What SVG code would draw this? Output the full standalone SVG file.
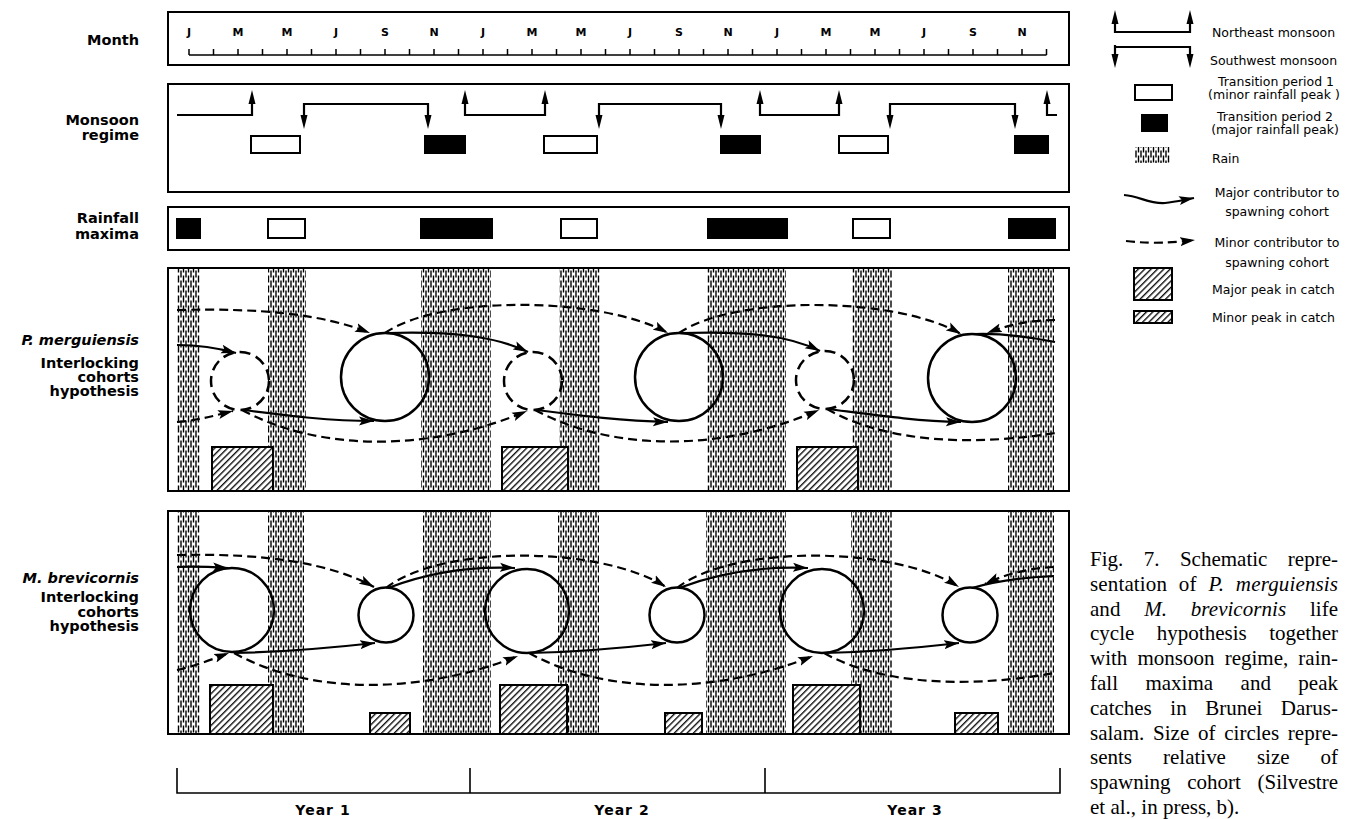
<svg xmlns="http://www.w3.org/2000/svg" width="1346" height="819" viewBox="0 0 1346 819">
<defs>
<pattern id="rainp" width="5" height="10" patternUnits="userSpaceOnUse">
<rect width="5" height="10" fill="#fff"/>
<path d="M1,0.5V7.5M3.5,5.5V12.5M3.5,-4.5V2.5" stroke="#000" stroke-width="1.4"/>
</pattern>
<pattern id="hatchp" width="4.5" height="4.5" patternUnits="userSpaceOnUse" patternTransform="rotate(45)">
<rect width="4.5" height="4.5" fill="#fff"/>
<path d="M0.7,0V4.5" stroke="#000" stroke-width="1.3"/>
</pattern>
<marker id="ah" markerUnits="userSpaceOnUse" markerWidth="16" markerHeight="10" refX="15" refY="5" orient="auto">
<path d="M0,0.5L15,5L0,9.5L3,5Z" fill="#000"/>
</marker>
</defs>
<style>
.box{fill:none;stroke:#000;stroke-width:2}
.lbl{font-family:"DejaVu Sans",sans-serif;font-weight:bold;font-size:14.5px;text-anchor:end;fill:#000}
.it{font-style:italic}
.mon{font-family:"DejaVu Sans",sans-serif;font-weight:bold;font-size:11px;text-anchor:middle}
.leg{font-family:"DejaVu Sans",sans-serif;font-size:12.5px}
.legc{text-anchor:middle}
.cap{font-family:"Liberation Serif",serif;font-size:21px}
.yr{font-family:"DejaVu Sans",sans-serif;font-weight:bold;font-size:14px;text-anchor:middle;letter-spacing:1px}
.ln{fill:none;stroke:#000;stroke-width:2.2}
.sol{fill:none;stroke:#000;stroke-width:2.2;marker-end:url(#ah)}
.dsh{fill:none;stroke:#000;stroke-width:2.2;stroke-dasharray:9 5;marker-end:url(#ah)}
.sol0{fill:none;stroke:#000;stroke-width:2.2}
.dsh0{fill:none;stroke:#000;stroke-width:2.2;stroke-dasharray:9 5}
.rain{fill:url(#rainp)}
.hatch{fill:url(#hatchp);stroke:#000;stroke-width:2}
.circ{fill:none;stroke:#000;stroke-width:2.5}
.circd{fill:none;stroke:#000;stroke-width:2.5;stroke-dasharray:11 6}
.blk{fill:#000;stroke:#000;stroke-width:2}
.opn{fill:#fff;stroke:#000;stroke-width:2}
.hd{fill:#000}
</style>
<rect width="1346" height="819" fill="#fff"/>

<g id="row-labels">
<text class="lbl" x="139" y="45">Month</text>
<text class="lbl" x="139" y="125">Monsoon</text>
<text class="lbl" x="139" y="140">regime</text>
<text class="lbl" x="139" y="223">Rainfall</text>
<text class="lbl" x="139" y="239">maxima</text>
<text class="lbl it" x="139" y="345">P. merguiensis</text>
<text class="lbl" x="139" y="368">Interlocking</text>
<text class="lbl" x="139" y="382">cohorts</text>
<text class="lbl" x="139" y="396">hypothesis</text>
<text class="lbl it" x="139" y="583">M. brevicornis</text>
<text class="lbl" x="139" y="602">Interlocking</text>
<text class="lbl" x="139" y="617">cohorts</text>
<text class="lbl" x="139" y="631">hypothesis</text>
</g>

<g id="month-row">
<rect class="box" x="168" y="12" width="901" height="53"/>
<path d="M189,55H1046.5M189,55V49M213.5,55V49M238,55V49M262.5,55V49M287,55V49M311.5,55V49M336,55V49M360.5,55V49M385,55V49M409.5,55V49M434,55V49M458.5,55V49M483,55V49M507.5,55V49M532,55V49M556.5,55V49M581,55V49M605.5,55V49M630,55V49M654.5,55V49M679,55V49M703.5,55V49M728,55V49M752.5,55V49M777,55V49M801.5,55V49M826,55V49M850.5,55V49M875,55V49M899.5,55V49M924,55V49M948.5,55V49M973,55V49M997.5,55V49M1022,55V49M1046.5,55V49" fill="none" stroke="#000" stroke-width="1.5"/>
<text class="mon" x="189" y="36">J</text><text class="mon" x="238" y="36">M</text><text class="mon" x="287" y="36">M</text><text class="mon" x="336" y="36">J</text><text class="mon" x="385" y="36">S</text><text class="mon" x="434" y="36">N</text>
<text class="mon" x="483" y="36">J</text><text class="mon" x="532" y="36">M</text><text class="mon" x="581" y="36">M</text><text class="mon" x="630" y="36">J</text><text class="mon" x="679" y="36">S</text><text class="mon" x="728" y="36">N</text>
<text class="mon" x="777" y="36">J</text><text class="mon" x="826" y="36">M</text><text class="mon" x="875" y="36">M</text><text class="mon" x="924" y="36">J</text><text class="mon" x="973" y="36">S</text><text class="mon" x="1022" y="36">N</text>
</g>

<g id="monsoon-row">
<rect class="box" x="168" y="84" width="901" height="108"/>
<path class="ln" d="M177,115H252V101M304,118V104H428V118M465,101V115H545V101M599,118V104H721V118M760,101V115H839V101M890,118V104H1015V118M1047,101V115H1057"/>
<path class="hd" d="M248.5,104L252,90L255.5,104ZM461.5,104L465,90L468.5,104ZM541.5,104L545,90L548.5,104ZM756.5,104L760,90L763.5,104ZM835.5,104L839,90L842.5,104ZM1043.5,104L1047,90L1050.5,104Z"/>
<path class="hd" d="M300.5,115L304,129L307.5,115ZM424.5,115L428,129L431.5,115ZM595.5,115L599,129L602.5,115ZM717.5,115L721,129L724.5,115ZM886.5,115L890,129L893.5,115ZM1011.5,115L1015,129L1018.5,115Z"/>
<rect class="opn" x="251" y="136" width="49" height="17"/>
<rect class="opn" x="544" y="136" width="53" height="17"/>
<rect class="opn" x="839" y="136" width="49" height="17"/>
<rect class="blk" x="425" y="136" width="40" height="17"/>
<rect class="blk" x="721" y="136" width="39" height="17"/>
<rect class="blk" x="1015" y="136" width="33" height="17"/>
</g>

<g id="rainfall-row">
<rect class="box" x="168" y="207" width="901" height="43"/>
<rect class="blk" x="177" y="219" width="23" height="19"/>
<rect class="opn" x="268" y="219" width="37" height="19"/>
<rect class="blk" x="421" y="219" width="71" height="19"/>
<rect class="opn" x="561" y="219" width="36" height="19"/>
<rect class="blk" x="708" y="219" width="79" height="19"/>
<rect class="opn" x="853" y="219" width="37" height="19"/>
<rect class="blk" x="1009" y="219" width="46" height="19"/>
</g>

<g id="p-panel">
<rect class="rain" x="177" y="269" width="23" height="221"/>
<rect class="rain" x="268" y="269" width="38" height="221"/>
<rect class="rain" x="421" y="269" width="70" height="221"/>
<rect class="rain" x="559" y="269" width="41" height="221"/>
<rect class="rain" x="707" y="269" width="79" height="221"/>
<rect class="rain" x="852" y="269" width="40" height="221"/>
<rect class="rain" x="1008" y="269" width="46" height="221"/>
<rect class="hatch" x="212" y="447" width="61" height="44"/>
<rect class="hatch" x="502" y="447" width="66" height="44"/>
<rect class="hatch" x="797" y="447" width="61" height="44"/>
<rect class="box" x="168" y="268" width="901" height="223"/>
</g>
<g id="p-d1"><circle class="circd" cx="240" cy="381" r="29"/></g>
<g id="p-g1"><circle class="circ" cx="385" cy="377" r="44"/></g>
<g id="p-d2"><circle class="circd" cx="533" cy="381" r="29"/></g>
<g id="p-g2"><circle class="circ" cx="679" cy="377" r="44"/></g>
<g id="p-d3"><circle class="circd" cx="825" cy="380" r="29"/></g>
<g id="p-g3"><circle class="circ" cx="972" cy="378" r="44"/></g>

<g id="m-panel">
<rect class="rain" x="177" y="512" width="23" height="221"/>
<rect class="rain" x="268" y="512" width="36" height="221"/>
<rect class="rain" x="423" y="512" width="68" height="221"/>
<rect class="rain" x="558" y="512" width="41" height="221"/>
<rect class="rain" x="706" y="512" width="80" height="221"/>
<rect class="rain" x="851" y="512" width="41" height="221"/>
<rect class="rain" x="1008" y="512" width="46" height="221"/>
<rect class="hatch" x="210" y="685" width="63" height="49"/>
<rect class="hatch" x="500" y="685" width="67" height="49"/>
<rect class="hatch" x="793" y="685" width="67" height="49"/>
<rect class="hatch" x="370" y="713" width="40" height="21"/>
<rect class="hatch" x="665" y="713" width="37" height="21"/>
<rect class="hatch" x="955" y="713" width="43" height="21"/>
<rect class="box" x="168" y="511" width="901" height="223"/>
</g>
<g id="m-g1"><circle class="circ" cx="232" cy="610" r="42"/></g>
<g id="m-s1"><circle class="circ" cx="386" cy="615" r="27.5"/></g>
<g id="m-g2"><circle class="circ" cx="527" cy="611" r="42"/></g>
<g id="m-s2"><circle class="circ" cx="677" cy="615" r="27.5"/></g>
<g id="m-g3"><circle class="circ" cx="822" cy="611" r="42"/></g>
<g id="m-s3"><circle class="circ" cx="970" cy="615" r="27.5"/></g>

<g id="connectors">
<path class="sol" d="M177,345C200,345 218,348 236,353"/>
<path class="dsh" d="M177,310C262,308 322,314 370,333"/>
<path class="dsh" d="M177,422C195,421 213,416 233,411"/>
<path class="sol" d="M388,333C450,331 495,336 528,352"/>
<path class="sol" d="M682,333C745,331 788,335 820,351"/>
<path class="dsh" d="M385,333C440,295 600,296 668,333"/>
<path class="dsh" d="M679,333C735,295 895,296 961,334"/>
<path class="sol0" d="M975,334C1005,333 1030,337 1055,342"/>
<path class="dsh" d="M1055,320C1030,320 1008,325 987,333"/>
<path class="sol" d="M243,410C290,416 330,421 374,421"/>
<path class="sol" d="M536,410C583,416 623,421 668,422"/>
<path class="sol" d="M828,409C875,415 915,421 961,422"/>
<path class="dsh" d="M242,410C320,452 430,452 527,411"/>
<path class="dsh" d="M535,410C613,452 722,452 819,410"/>
<path class="dsh0" d="M827,409C890,445 980,445 1055,433"/>
<path class="dsh" d="M177,555C265,553 330,563 374,587"/>
<path class="sol" d="M177,567C195,566 212,567 228,568"/>
<path class="dsh" d="M177,670C195,666 213,659 229,653"/>
<path class="sol" d="M388,588C430,572 470,566 515,568"/>
<path class="sol" d="M679,588C721,572 762,566 808,568"/>
<path class="dsh" d="M386,588C440,545 600,545 666,587"/>
<path class="dsh" d="M677,588C731,545 893,545 959,587"/>
<path class="sol0" d="M972,588C1000,580 1030,577 1054,576"/>
<path class="dsh" d="M1054,567C1030,568 1005,574 985,584"/>
<path class="sol" d="M235,653C285,652 330,648 375,643"/>
<path class="sol" d="M530,653C580,652 622,648 666,643"/>
<path class="sol" d="M825,653C875,652 915,648 959,643"/>
<path class="dsh" d="M234,653C310,695 420,695 518,656"/>
<path class="dsh" d="M529,653C605,695 715,695 813,656"/>
<path class="dsh0" d="M824,653C890,690 990,685 1054,673"/>
</g>

<g id="year-axis">
<path d="M177,768V793H1060V768M470,768V793M765,768V793" fill="none" stroke="#000" stroke-width="1.6"/>
<text class="yr" x="323" y="815">Year 1</text>
<text class="yr" x="622" y="815">Year 2</text>
<text class="yr" x="915" y="815">Year 3</text>
</g>

<g id="legend">
<path class="ln" d="M1115,22V32H1190V22M1115,45V47H1190V55M1115,47V55"/>
<path class="hd" d="M1111.5,24L1115,10L1118.5,24ZM1186.5,24L1190,10L1193.5,24ZM1111.5,54L1115,68L1118.5,54ZM1186.5,54L1190,68L1193.5,54Z"/>
<text class="leg" x="1212" y="37">Northeast monsoon</text>
<text class="leg" x="1210" y="65">Southwest monsoon</text>
<rect class="opn" x="1135" y="85" width="37" height="15"/>
<text class="leg legc" x="1276" y="86">Transition period 1</text>
<text class="leg legc" x="1274" y="99">(minor rainfall peak )</text>
<rect class="blk" x="1142" y="115" width="25" height="16"/>
<text class="leg legc" x="1275" y="121">Transition period 2</text>
<text class="leg legc" x="1275" y="134">(major rainfall peak)</text>
<rect class="rain" x="1135" y="147" width="35" height="16"/>
<text class="leg" x="1212" y="163">Rain</text>
<path class="sol" d="M1124,195C1140,196 1148,204 1165,203C1175,202 1183,200 1194,198"/>
<text class="leg legc" x="1277" y="197">Major contributor to</text>
<text class="leg legc" x="1277" y="216">spawning cohort</text>
<path class="dsh" d="M1126,241C1145,243 1160,244 1195,240"/>
<text class="leg legc" x="1277" y="247">Minor contributor to</text>
<text class="leg legc" x="1277" y="267">spawning cohort</text>
<rect class="hatch" x="1134" y="268" width="38" height="32"/>
<text class="leg" x="1212" y="294">Major peak in catch</text>
<rect class="hatch" x="1134" y="311" width="38" height="12"/>
<text class="leg" x="1212" y="322">Minor peak in catch</text>
</g>

<g id="caption" class="cap">
<text x="1090" y="566" word-spacing="15.2" textLength="248" lengthAdjust="spacing">Fig. 7. Schematic repre-</text>
<text x="1090" y="590.8" word-spacing="6.4" textLength="248" lengthAdjust="spacing">sentation of <tspan font-style="italic">P. merguiensis</tspan></text>
<text x="1090" y="615.6" word-spacing="18.5" textLength="248" lengthAdjust="spacing">and <tspan font-style="italic">M. brevicornis</tspan> life</text>
<text x="1090" y="640.4" word-spacing="17.2" textLength="248" lengthAdjust="spacing">cycle hypothesis together</text>
<text x="1090" y="665.2" word-spacing="4.9" textLength="248" lengthAdjust="spacing">with monsoon regime, rain-</text>
<text x="1090" y="690" word-spacing="22.2" textLength="248" lengthAdjust="spacing">fall maxima and peak</text>
<text x="1090" y="714.8" word-spacing="13.3" textLength="248" lengthAdjust="spacing">catches in Brunei Darus-</text>
<text x="1090" y="739.6" word-spacing="3.5" textLength="248" lengthAdjust="spacing">salam. Size of circles repre-</text>
<text x="1090" y="764.4" word-spacing="25.7" textLength="248" lengthAdjust="spacing">sents relative size of</text>
<text x="1090" y="789.2" word-spacing="11.4" textLength="248" lengthAdjust="spacing">spawning cohort (Silvestre</text>
<text x="1090" y="814">et al., in press, b).</text>
</g>
</svg>
